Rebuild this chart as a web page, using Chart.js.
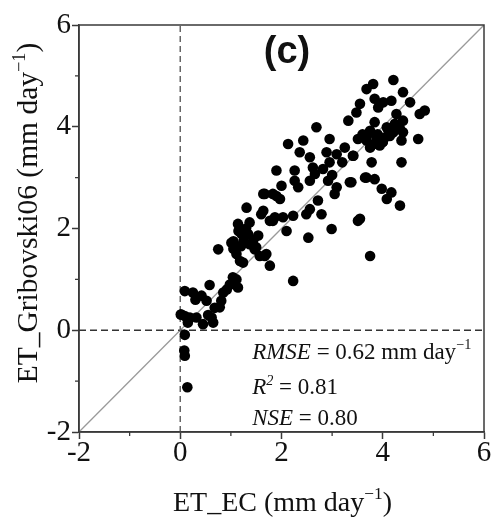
<!DOCTYPE html>
<html>
<head>
<meta charset="utf-8">
<script src="https://cdn.jsdelivr.net/npm/chart.js@4/dist/chart.umd.min.js"></script>
<style>
html,body{margin:0;padding:0;background:#fff;}
#wrap{width:492px;height:521px;position:relative;}
</style>
</head>
<body>
<div id="wrap"><canvas id="c" width="492" height="521"></canvas></div>
<script>
// Observed ET from eddy covariance (x) and modelled ET_Gribovski06 (y), mm/day
const etEC = [
 0.14,0.09,0.08,0.09,0.01,0.09,0.09,0.25,0.42,0.58,0.52,0.02,0.19,0.32,0.45,0.62,0.68,0.81,0.85,1.01,
 1.11,1.14,0.75,1.01,1.11,1.18,1.14,1.21,1.31,1.37,1.37,1.47,1.54,1.57,1.60,1.70,1.77,1.77,1.67,1.87,
 1.90,0.15,0.65,0.98,1.05,1.24,1.34,1.44,1.50,2.69,3.32,2.13,2.43,2.36,2.56,2.95,2.89,3.09,3.25,3.41,
 1.90,2.26,2.62,2.82,2.26,2.33,2.56,2.66,2.92,3.09,3.05,3.35,3.68,1.64,1.83,1.97,2.00,1.64,1.83,2.03,
 2.23,2.10,2.49,2.56,2.72,2.79,2.99,2.53,3.51,1.67,4.21,3.68,3.81,4.40,3.55,3.84,4.01,4.17,3.91,3.48,
 4.54,4.83,4.73,4.27,3.84,4.24,4.40,4.08,4.34,4.40,4.21,3.75,3.51,3.68,3.88,4.04,4.37,4.70,3.75,3.94,
 4.14,3.42,3.78,4.37,3.65,3.84,3.98,4.17,4.08,4.34,3.38,3.55,3.75,2.23,0.78,0.92,1.04,3.20,3.60,4.00,
 1.15,1.25,1.30,1.20,1.05,3.80,3.90,4.00,3.70,4.10,2.95,3.00,0.30,0.55
];
const etGrib = [
 -1.12,-0.50,-0.40,-0.09,0.31,0.28,0.77,0.74,0.68,0.89,0.58,0.31,0.25,0.25,0.12,0.25,0.44,0.58,0.74,0.91,
 1.00,0.84,1.59,1.72,1.50,1.36,2.09,1.89,2.41,2.12,1.69,1.59,1.86,1.46,2.28,1.50,1.27,2.15,2.68,2.22,
 2.64,0.15,0.15,0.90,1.60,1.33,1.89,1.76,1.63,3.99,4.12,3.66,3.73,3.50,3.40,3.76,3.50,3.46,3.59,3.43,
 3.14,3.14,3.20,3.17,2.94,2.81,2.94,3.07,2.94,2.81,2.68,2.91,3.00,2.68,2.68,2.58,2.84,2.35,2.15,2.22,
 2.25,1.95,2.28,2.38,2.55,2.28,1.99,1.82,2.15,1.46,4.92,4.74,4.84,4.68,4.45,4.55,4.48,4.51,4.38,4.28,
 4.48,4.32,4.25,4.25,4.09,4.06,4.12,3.99,3.96,3.89,3.89,3.92,3.76,3.73,3.79,3.79,3.73,3.76,3.59,3.63,
 3.82,3.43,3.30,3.30,3.00,2.97,2.78,2.71,2.58,2.45,2.91,2.19,1.46,0.97,0.45,0.80,1.04,3.30,3.85,3.70,
 1.95,1.75,2.00,1.65,1.75,3.65,3.85,3.70,3.85,3.95,3.30,3.05,0.60,0.30
];
const axisMin = -2, axisMax = 6;
const tickStep = 2;
const minorTicks = [-1, 1, 3, 5];
const oneToOne = [axisMin, axisMax];
const statLines = [
  {name:'RMSE', value:'0.62', unit:' mm day', sup:'\u22121'},
  {name:'R', nameSup:'2', value:'0.81'},
  {name:'NSE', value:'0.80'}
];
const xTitle = {main:'ET_EC (mm day', sup:'\u22121', end:')'};
const yTitle = {main:'ET_Gribovski06 (mm day', sup:'\u22121', end:')'};
const panelLabel = '(c)';

const points = etEC.map((x,i)=>({x:x, y:etGrib[i]}));
const serif = "'Liberation Serif','Times New Roman',serif";

function drawSupText(ctx, x, y, parts, size){
  let cx = x;
  parts.forEach(p=>{
    const s = p.sup ? size*0.62 : size;
    ctx.font = (p.italic?'italic ':'') + s + 'px ' + serif;
    const dy = p.sup ? -size*0.42 : 0;
    ctx.fillText(p.t, cx, y + dy);
    cx += ctx.measureText(p.t).width;
  });
  return cx - x;
}
function measureSup(ctx, parts, size){
  let w=0;
  parts.forEach(p=>{
    const s = p.sup ? size*0.62 : size;
    ctx.font = (p.italic?'italic ':'') + s + 'px ' + serif;
    w += ctx.measureText(p.t).width;
  });
  return w;
}

const decor = {
  id:'decor',
  afterDatasetsDraw(chart){
    const {ctx, chartArea:a, scales:{x, y}} = chart;
    ctx.save();
    ctx.strokeStyle = '#3a3a3a';
    ctx.lineWidth = 1.5;
    ctx.strokeRect(a.left, a.top, a.right - a.left, a.bottom - a.top);
    ctx.lineWidth = 1.3;
    minorTicks.forEach(v=>{
      const px = x.getPixelForValue(v);
      ctx.beginPath(); ctx.moveTo(px, a.bottom); ctx.lineTo(px, a.bottom + 4); ctx.stroke();
      const py = y.getPixelForValue(v);
      ctx.beginPath(); ctx.moveTo(a.left, py); ctx.lineTo(a.left - 4, py); ctx.stroke();
    });
    ctx.fillStyle = '#111';
    ctx.textBaseline = 'alphabetic';
    ctx.textAlign = 'left';
    const sx = x.getPixelForValue(1.42);
    const baseY = [y.getPixelForValue(-0.56), y.getPixelForValue(-1.26), y.getPixelForValue(-1.86)];
    statLines.forEach((s,i)=>{
      const parts = [{t:s.name, italic:true}];
      if (s.nameSup) parts.push({t:s.nameSup, italic:true, sup:true});
      parts.push({t:' = ' + s.value + (s.unit||'')});
      if (s.sup) parts.push({t:s.sup, sup:true});
      drawSupText(ctx, sx, baseY[i], parts, 23);
    });
    ctx.font = "bold 38px 'Liberation Sans', Arial, sans-serif";
    ctx.textAlign = 'center';
    ctx.fillStyle = '#111';
    ctx.fillText(panelLabel, 287, 63);
    ctx.textAlign = 'left';
    const xp = [{t:xTitle.main},{t:xTitle.sup, sup:true},{t:xTitle.end}];
    const xw = measureSup(ctx, xp, 28);
    drawSupText(ctx, (a.left + a.right)/2 - xw/2 + 1, 511, xp, 28);
    const yp = [{t:yTitle.main},{t:yTitle.sup, sup:true},{t:yTitle.end}];
    const yw = measureSup(ctx, yp, 29.5);
    ctx.translate(37, 213);
    ctx.rotate(-Math.PI/2);
    drawSupText(ctx, -yw/2, 0, yp, 29.5);
    ctx.restore();
  }
};

new Chart(document.getElementById('c'), {
  type:'scatter',
  data:{
    datasets:[
      {data:points, pointRadius:5.3, pointHoverRadius:5.3, backgroundColor:'#000', borderWidth:0, order:0},
      {type:'line', data:oneToOne.map(v=>({x:v,y:v})), borderColor:'#9a9a9a', borderWidth:1.3, pointRadius:0, order:3},
      {type:'line', data:[{x:0,y:axisMin},{x:0,y:axisMax}], borderColor:'#666', borderWidth:1.5, borderDash:[6,4], pointRadius:0, order:2},
      {type:'line', data:[{x:axisMin,y:0},{x:axisMax,y:0}], borderColor:'#333', borderWidth:1.5, borderDash:[7,4], pointRadius:0, order:2}
    ]
  },
  options:{
    responsive:false,
    animation:false,
    events:[],
    layout:{padding:{top:25, right:8, left:0, bottom:0}},
    plugins:{legend:{display:false}, tooltip:{enabled:false}},
    scales:{
      x:{
        type:'linear', min:axisMin, max:axisMax,
        ticks:{stepSize:tickStep, color:'#111', font:{family:serif, size:29}, padding:-3, maxRotation:0},
        grid:{drawOnChartArea:false, tickLength:7, tickColor:'#3a3a3a', tickWidth:1.5},
        border:{color:'#3a3a3a', width:1.5},
        afterFit(s){ s.height = 89; }
      },
      y:{
        type:'linear', min:axisMin, max:axisMax,
        ticks:{stepSize:tickStep, color:'#111', font:{family:serif, size:29}, padding:1},
        grid:{drawOnChartArea:false, tickLength:7, tickColor:'#3a3a3a', tickWidth:1.5},
        border:{color:'#3a3a3a', width:1.5},
        afterFit(s){ s.width = 79; }
      }
    }
  },
  plugins:[decor]
});
</script>
</body>
</html>
